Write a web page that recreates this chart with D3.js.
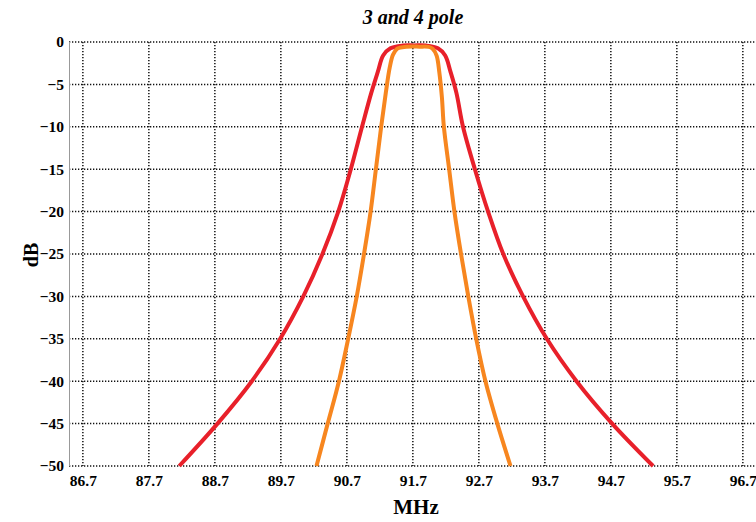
<!DOCTYPE html>
<html>
<head>
<meta charset="utf-8">
<script src="https://cdn.jsdelivr.net/npm/d3@7"></script>
<style>
  html, body { margin: 0; padding: 0; background: #fff; }
  text { font-family: "Liberation Serif", "Times New Roman", serif; }
</style>
</head>
<body>
<svg id="chart" width="756" height="522"></svg>
<script>
// ---- data ----
const title = "3 and 4 pole";
const xLabel = "MHz";
const yLabel = "dB";
const xTicks = [86.7, 87.7, 88.7, 89.7, 90.7, 91.7, 92.7, 93.7, 94.7, 95.7, 96.7];
const yTicks = [0, -5, -10, -15, -20, -25, -30, -35, -40, -45, -50];

// 3-pole response (red)
const freq3 = [88.16, 88.74, 89.26, 89.69, 90.04, 90.33, 90.57, 90.76, 90.93, 91.07, 91.17, 91.25, 91.36, 91.55, 91.72, 91.90, 92.08, 92.19, 92.27, 92.36, 92.46, 92.64, 92.84, 93.07, 93.37, 93.73, 94.18, 94.72, 95.34];
const db3   = [-50, -45, -40, -35, -30, -25, -20, -15, -10, -6, -3.5, -1.6, -0.75, -0.42, -0.4, -0.42, -0.75, -1.6, -3.5, -6, -10, -15, -20, -25, -30, -35, -40, -45, -50];

// 4-pole response (orange)
const freq4 = [90.24, 90.41, 90.58, 90.72, 90.85, 90.96, 91.06, 91.14, 91.22, 91.29, 91.35, 91.40, 91.47, 91.60, 91.80, 91.94, 92.00, 92.06, 92.10, 92.14, 92.17, 92.25, 92.33, 92.43, 92.54, 92.66, 92.80, 92.98, 93.18];
const db4   = [-50, -45, -40, -35, -30, -25, -20, -15, -10, -6, -3, -1.5, -0.75, -0.56, -0.55, -0.58, -0.8, -1.6, -3.5, -6.5, -10, -15, -20, -25, -30, -35, -40, -45, -50];

const seriesColors = ["#e8202a", "#f7861f"];

// ---- drawing ----
const svg = d3.select("#chart");
const x = d3.scaleLinear().domain([86.49, 96.91]).range([69, 756.7]);
const y = d3.scaleLinear().domain([-50, 0]).range([466, 42]);

const grid = svg.append("g");
grid.selectAll("line.h").data(yTicks).join("line")
  .attr("x1", x.range()[0]).attr("x2", x.range()[1])
  .attr("y1", d => y(d)).attr("y2", d => y(d))
  .attr("stroke", "#111").attr("stroke-width", 1.5).attr("stroke-dasharray", "1.3,1.7");
grid.selectAll("line.v").data(xTicks).join("line")
  .attr("x1", d => x(d)).attr("x2", d => x(d))
  .attr("y1", y(0)).attr("y2", y(-50))
  .attr("stroke", "#111").attr("stroke-width", 1.5).attr("stroke-dasharray", "1.3,1.7");

// left axis line
svg.append("line")
  .attr("x1", 69.5).attr("x2", 69.5).attr("y1", y(0)).attr("y2", y(-50))
  .attr("stroke", "#999").attr("stroke-width", 1);

// y tick labels
const yAxis = d3.axisLeft(y).tickValues(yTicks).tickSize(0).tickPadding(5)
  .tickFormat(d => d === 0 ? "0" : "\u2212" + Math.abs(d));
const gy = svg.append("g").attr("transform", "translate(69,0)").call(yAxis);
gy.select(".domain").remove();
gy.selectAll("text").attr("font-family", "Liberation Serif, serif").attr("font-weight", "bold")
  .attr("font-size", 15.5).attr("fill", "#000");

// x tick labels
const xAxis = d3.axisBottom(x).tickValues(xTicks).tickSize(0).tickPadding(9)
  .tickFormat(d3.format(".1f"));
const gx = svg.append("g").attr("transform", "translate(0,466)").call(xAxis);
gx.select(".domain").remove();
gx.selectAll("text").attr("font-family", "Liberation Serif, serif").attr("font-weight", "bold")
  .attr("font-size", 15.5).attr("fill", "#000");

// curves
const line = d3.line().x(d => x(d[0])).y(d => y(d[1])).curve(d3.curveCatmullRom.alpha(0.5));
const series = [d3.zip(freq3, db3), d3.zip(freq4, db4)];
svg.append("g").selectAll("path").data(series).join("path")
  .attr("d", line)
  .attr("fill", "none")
  .attr("stroke", (d, i) => seriesColors[i])
  .attr("stroke-width", 4)
  .attr("stroke-linejoin", "round");

// title and axis labels
svg.append("text").attr("x", 413).attr("y", 24).attr("text-anchor", "middle")
  .attr("font-weight", "bold").attr("font-style", "italic").attr("font-size", 20)
  .text(title);
svg.append("text").attr("x", 416).attr("y", 514).attr("text-anchor", "middle")
  .attr("font-weight", "bold").attr("font-size", 21).text(xLabel);
svg.append("text").attr("transform", "translate(38,255) rotate(-90)").attr("text-anchor", "middle")
  .attr("font-weight", "bold").attr("font-size", 20).text(yLabel);
</script>
</body>
</html>
